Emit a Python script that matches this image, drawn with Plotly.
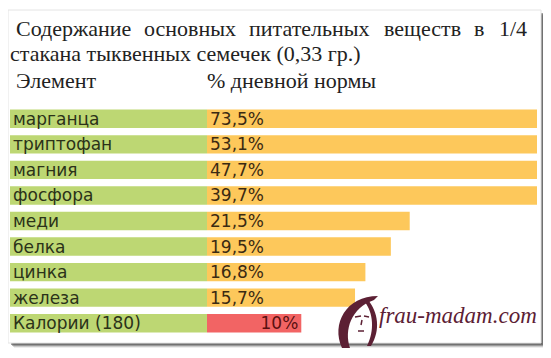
import plotly.graph_objects as go

# ---- data ----
elements = ["марганца", "триптофан", "магния", "фосфора", "меди",
            "белка", "цинка", "железа", "Калории (180)"]
percent = [73.5, 53.1, 47.7, 39.7, 21.5, 19.5, 16.8, 15.7, 10]
percent_labels = ["73,5%", "53,1%", "47,7%", "39,7%", "21,5%",
                  "19,5%", "16,8%", "15,7%", "10%"]
title_line1_words = ["Содержание", "основных", "питательных", "веществ", "в", "1/4"]
title_line2 = "стакана тыквенных семечек (0,33 гр.)"
header_labels = ["Элемент", "% дневной нормы"]

# the page places the figure 8px from the window's top-left corner
OFF = 8
W, H = 551 - OFF, 358 - OFF
ML, MR, MT, MB = 10 - OFF, 14, 106 - OFF, 22
PW, PH = W - ML - MR, H - MT - MB
split = 197 / PW  # label column width fraction


def px(x):  # window x -> paper
    return (x - OFF - ML) / PW


def py(y):  # window y -> paper
    return (H - MB - (y - OFF)) / PH


GREEN = "#bdd773"
ORANGE = "#fdc85b"
RED = "#f26464"
MAROON = "#5c2034"

fig = go.Figure()

fig.add_trace(go.Bar(
    y=elements, x=[1] * len(elements), orientation="h",
    xaxis="x2", yaxis="y",
    marker=dict(color=GREEN, line=dict(width=0)),
    width=0.72,
    text=elements, textposition="inside", insidetextanchor="start",
    textangle=0, constraintext="none",
    insidetextfont=dict(family="DejaVu Sans", size=17, color="#2b3219"),
    hoverinfo="skip",
))

fig.add_trace(go.Bar(
    y=elements[:-1], x=percent[:-1], orientation="h",
    xaxis="x", yaxis="y",
    marker=dict(color=ORANGE, line=dict(width=0)),
    width=0.72,
    text=percent_labels[:-1], textposition="inside", insidetextanchor="start",
    textangle=0, constraintext="none",
    insidetextfont=dict(family="DejaVu Sans", size=17, color="#3b2a12"),
    hoverinfo="skip",
))

fig.add_trace(go.Bar(
    y=elements[-1:], x=percent[-1:], orientation="h",
    xaxis="x", yaxis="y",
    marker=dict(color=RED, line=dict(width=0)),
    width=0.72,
    text=percent_labels[-1:], textposition="inside", insidetextanchor="end",
    textangle=0, constraintext="none",
    insidetextfont=dict(family="DejaVu Sans", size=17, color="#5a1010"),
    hoverinfo="skip",
))

shapes = []
for op, d in [(0.10, 5), (0.22, 4), (0.40, 3), (0.55, 2)]:
    shapes.append(dict(type="rect", xref="paper", yref="paper",
                       x0=px(9 + d), x1=px(541 + d), y0=py(343 + d), y1=py(11 + d),
                       fillcolor=f"rgba(80,80,80,{op})", line=dict(width=0),
                       layer="below"))
shapes.append(dict(type="rect", xref="paper", yref="paper",
                   x0=px(8), x1=px(541), y0=py(343), y1=py(10),
                   fillcolor="white", line=dict(color="#e4e4e4", width=1),
                   layer="below"))


def path(points):
    s = ""
    for cmd, pts in points:
        s += cmd + " " + " ".join(f"{px(x):.5f},{py(y):.5f}" for x, y in pts) + " "
    return s


# watermark face icon (hair silhouette + features)
shapes.append(dict(type="path", xref="paper", yref="paper", layer="above",
                   path=path([("M", [(378, 296)]),
                              ("C", [(346, 296), (331, 324), (342, 348)]),
                              ("L", [(350, 348)]),
                              ("C", [(344, 330), (351, 308), (374, 300)]),
                              ("Z", [])]),
                   fillcolor=MAROON, line=dict(width=0)))
shapes.append(dict(type="path", xref="paper", yref="paper", layer="above",
                   path=path([("M", [(368, 300)]),
                              ("C", [(378, 312), (381, 330), (371, 346)]),
                              ("L", [(367, 346)]),
                              ("C", [(375, 330), (373, 313), (365, 302)]),
                              ("Z", [])]),
                   fillcolor=MAROON, line=dict(width=0)))
for (x0, y0, x1, y1) in [(355, 317, 361, 316), (364, 316, 369, 317),
                         (362, 320, 361, 325), (358, 331, 364, 331)]:
    shapes.append(dict(type="line", xref="paper", yref="paper", layer="above",
                       x0=px(x0), y0=py(y0), x1=px(x1), y1=py(y1),
                       line=dict(color=MAROON, width=1.5)))

annotations = []
serif = "Liberation Serif"
TS = 22
tfont = dict(family=serif, size=TS, color="#222222")

# justified first title line: words spread evenly across the card width
word_x = [14, 142, 247, 382, 472]
for w, x in zip(title_line1_words[:-1], word_x):
    annotations.append(dict(text=w, xref="paper", yref="paper",
                            x=px(x), y=py(29), xanchor="left", yanchor="middle",
                            showarrow=False, font=tfont))
annotations.append(dict(text=title_line1_words[-1], xref="paper", yref="paper",
                        x=px(529), y=py(29), xanchor="right", yanchor="middle",
                        showarrow=False, font=tfont))
annotations.append(dict(text=title_line2, xref="paper", yref="paper",
                        x=px(8), y=py(54), xanchor="left", yanchor="middle",
                        showarrow=False, font=tfont))
annotations.append(dict(text=header_labels[0], xref="paper", yref="paper",
                        x=px(14), y=py(80), xanchor="left", yanchor="middle",
                        showarrow=False, font=tfont))
annotations.append(dict(text=header_labels[1], xref="paper", yref="paper",
                        x=px(205), y=py(80), xanchor="left", yanchor="middle",
                        showarrow=False, font=tfont))
annotations.append(dict(text="frau-madam.com", xref="paper", yref="paper",
                        x=px(539), y=py(315), xanchor="right", yanchor="middle",
                        showarrow=False,
                        font=dict(family=serif, size=23, color=MAROON,
                                  style="italic")))

fig.update_layout(
    width=W, height=H,
    margin=dict(l=ML, r=MR, t=MT, b=MB, pad=0),
    paper_bgcolor="white", plot_bgcolor="rgba(0,0,0,0)",
    barmode="overlay", showlegend=False,
    xaxis=dict(domain=[split, 1], range=[0, 35], visible=False, fixedrange=True),
    xaxis2=dict(domain=[0, split], range=[0, 1], visible=False, anchor="y",
                fixedrange=True),
    yaxis=dict(categoryorder="array", categoryarray=elements,
               autorange="reversed", visible=False, fixedrange=True),
    shapes=shapes, annotations=annotations,
)

fig.write_html("out.html")
